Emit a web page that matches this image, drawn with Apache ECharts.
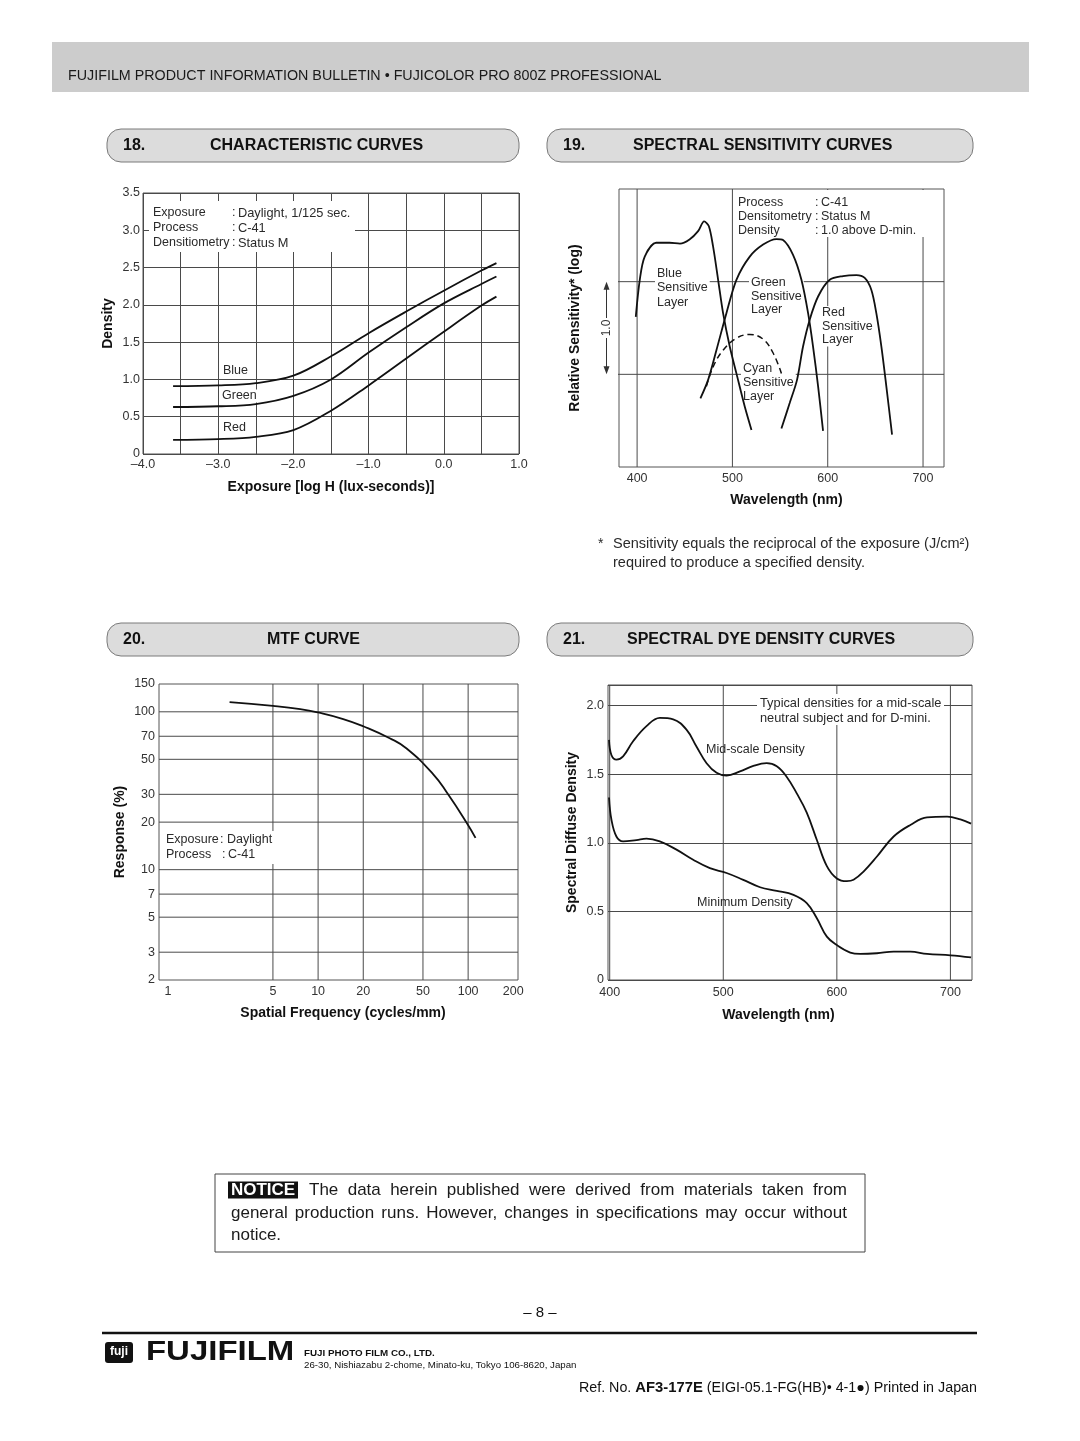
<!DOCTYPE html>
<html><head><meta charset="utf-8">
<script src="https://cdn.jsdelivr.net/npm/echarts@6/dist/echarts.min.js"></script>
<style>html,body{margin:0;padding:0;background:#fff}#c{width:1080px;height:1441px}</style>
</head><body><div id="c"></div>
<script>
// ---------- 18. Characteristic curves ----------
const charLogH  = [-3.6, -3.0, -2.5, -2.0, -1.5, -1.0, -0.5, 0.0, 0.5, 0.7];
const charBlue  = [0.91, 0.92, 0.95, 1.05, 1.31, 1.62, 1.91, 2.19, 2.46, 2.56];
const charGreen = [0.63, 0.64, 0.67, 0.78, 1.00, 1.36, 1.70, 2.02, 2.28, 2.38];
const charRed   = [0.19, 0.20, 0.23, 0.32, 0.58, 0.92, 1.28, 1.64, 1.99, 2.11];

// ---------- 19. Spectral sensitivity curves ----------
const specTicks = [400, 500, 600, 700];
const specLevels = [0, 1];
const blueWl   = [398.6, 402.8, 408, 420, 434, 445, 455, 464, 470.3, 475.2, 479.7, 485, 490.2, 497.2, 504.2, 513, 520];
const blueSens = [0.62, 1.02, 1.27, 1.42, 1.42, 1.41, 1.455, 1.545, 1.65, 1.60, 1.38, 1.02, 0.66, 0.30, 0.01, -0.35, -0.60];
const greenWl   = [466.4, 474.5, 483.2, 493.7, 504.2, 518.2, 532.2, 546.2, 553.1, 563.6, 572.4, 579.4, 584.6, 589.9, 595.1];
const greenSens = [-0.26, -0.06, 0.26, 0.66, 1.02, 1.27, 1.40, 1.46, 1.45, 1.29, 1.02, 0.66, 0.30, -0.13, -0.61];
const redWl   = [551.4, 560.1, 567.8, 574.1, 581.1, 589.9, 602.1, 616.1, 630.1, 638.8, 645.8, 651, 656.3, 661.5, 667.5];
const redSens = [-0.585, -0.31, -0.06, 0.30, 0.59, 0.84, 1.02, 1.06, 1.07, 1.04, 0.91, 0.66, 0.30, -0.13, -0.65];
const cyanWl   = [472.7, 479.7, 490.2, 504.2, 518.2, 532.2, 542.7, 551.4];
const cyanSens = [-0.13, 0.08, 0.26, 0.39, 0.43, 0.38, 0.23, 0.01];

// ---------- 20. MTF curve ----------
const mtfFreqTicks = [1, 5, 10, 20, 50, 100, 200];
const mtfRespTicks = [2, 3, 5, 7, 10, 20, 30, 50, 70, 100, 150];
const mtfFreq = [2.57, 5, 7.6, 10, 14.7, 20, 30, 38.9, 58.4, 73.5, 97.5, 112];
const mtfResp = [115, 109, 104, 99, 90, 81, 68, 58.5, 40.3, 30, 19.9, 15.9];

// ---------- 21. Spectral dye density curves ----------
const dyeTicks = [400, 500, 600, 700];
const midWl   = [399.4, 401.5, 405.9, 411.8, 420.6, 432.4, 444.1, 455.9, 467.6, 476.5, 485.3, 494.1, 502.9, 514.7, 526.5, 538.2, 547.1, 555.9, 564.7, 573.5, 582.4, 591.2, 600, 608.8, 614.7, 623.5, 635.3, 650, 664.7, 679.4, 697.1, 708.8, 718.2];
const midDens = [1.75, 1.64, 1.606, 1.63, 1.74, 1.85, 1.91, 1.90, 1.825, 1.70, 1.58, 1.51, 1.49, 1.52, 1.56, 1.58, 1.557, 1.48, 1.36, 1.22, 1.02, 0.83, 0.74, 0.72, 0.73, 0.79, 0.90, 1.046, 1.13, 1.185, 1.19, 1.17, 1.14];
const minWl   = [399.4, 401.5, 405.9, 411.8, 423.5, 432.4, 444.1, 458.8, 473.5, 488.2, 502.9, 517.6, 532.4, 547.1, 561.8, 573.5, 582.4, 591.2, 600, 611.8, 620.6, 635.3, 650, 664.7, 679.4, 700, 718.2];
const minDens = [1.33, 1.17, 1.046, 1.01, 1.02, 1.03, 1.01, 0.95, 0.876, 0.815, 0.78, 0.73, 0.676, 0.65, 0.62, 0.56, 0.45, 0.316, 0.255, 0.20, 0.19, 0.195, 0.207, 0.207, 0.19, 0.18, 0.165];

// ---------- helpers ----------
const FONT = "'Liberation Sans', Arial, Helvetica, sans-serif";
const GRIDC = '#4a4a4a';
const TXT = '#2a2a2a';
const INK = '#111';

function txt(x, y, text, o = {}) {
  const st = {
    text, fill: o.color || TXT, fontSize: o.size || 12.5, fontWeight: o.weight || 'normal',
    fontFamily: o.family || FONT, align: o.align || 'left', verticalAlign: o.va || 'middle'
  };
  if (o.bg) { st.backgroundColor = o.bg; st.padding = o.pad || [0, 2]; }
  if (o.lh) st.lineHeight = o.lh;
  if (o.rich) st.rich = o.rich;
  const el = { type: 'text', x, y, z: o.z || 6, silent: true, style: st };
  if (o.rotation) el.rotation = o.rotation;
  if (o.scaleX) el.scaleX = o.scaleX;
  return el;
}
function rect(x, y, w, h, o = {}) {
  return { type: 'rect', z: o.z || 5, silent: true, shape: { x, y, width: w, height: h, r: o.r || 0 },
    style: { fill: o.fill || '#fff', stroke: o.stroke || null, lineWidth: o.lw || 1 } };
}
function seg(x1, y1, x2, y2, o = {}) {
  return { type: 'line', z: o.z || 5, silent: true, shape: { x1, y1, x2, y2 },
    style: { stroke: o.stroke || GRIDC, lineWidth: o.lw || 1 } };
}
function curve(gi, xs, ys, o = {}) {
  return { type: 'line', xAxisIndex: gi, yAxisIndex: gi, data: xs.map((x, i) => [x, ys[i]]),
    smooth: o.smooth ?? 0.35, symbol: 'none', z: 10, silent: true, animation: false,
    lineStyle: { color: INK, width: o.width || 1.8, type: o.type || 'solid' } };
}
function gline(gi, a, b, clip = true) {
  return { type: 'line', xAxisIndex: gi, yAxisIndex: gi, data: [a, b], symbol: 'none', z: 1,
    silent: true, clip, animation: false, lineStyle: { color: GRIDC, width: 1 } };
}
const tickLabel = (extra = {}) => Object.assign({ color: '#333', fontSize: 12.5, fontFamily: FONT }, extra);
const nameStyle = { fontWeight: 'bold', fontSize: 14, color: INK, fontFamily: FONT };
const noLine = { show: false };

const gridBase = { show: true, borderColor: '#555', borderWidth: 1, backgroundColor: 'transparent', containLabel: false, outerBoundsMode: 'none' };
const grids = [
  Object.assign({ left: 143, top: 193, width: 376, height: 261 }, gridBase),
  Object.assign({ left: 619, top: 189, width: 325, height: 278 }, gridBase),
  Object.assign({ left: 159, top: 684, width: 359, height: 296 }, gridBase),
  Object.assign({ left: 608, top: 685, width: 364, height: 295 }, gridBase)
];

const dash = v => (v < 0 ? '\u2013' : '') + Math.abs(v).toFixed(1);

const xAxes = [
  { type: 'value', gridIndex: 0, min: -4, max: 1, interval: 0.5, axisLine: noLine, axisTick: noLine,
    splitLine: { show: true, lineStyle: { color: GRIDC, width: 1 } },
    axisLabel: tickLabel({ margin: 4, formatter: v => (Math.abs(v % 1) < 1e-9 ? dash(v) : '') }),
    name: 'Exposure [log H (lux-seconds)]', nameLocation: 'middle', nameGap: 26, nameTextStyle: nameStyle },
  { type: 'value', gridIndex: 1, min: 381, max: 722, axisLine: noLine, axisTick: noLine, splitLine: noLine,
    axisLabel: tickLabel({ margin: 5, customValues: specTicks }),
    name: 'Wavelength (nm)', nameLocation: 'middle', nameGap: 26, nameTextStyle: Object.assign({ padding: [0, 0, 0, 10] }, nameStyle) },
  { type: 'log', logBase: 10, gridIndex: 2, min: 0.87, max: 215, axisLine: noLine, axisTick: noLine, splitLine: noLine,
    axisLabel: tickLabel({ margin: 5, customValues: mtfFreqTicks }),
    name: 'Spatial Frequency (cycles/mm)', nameLocation: 'middle', nameGap: 26, nameTextStyle: Object.assign({ padding: [0, 0, 0, 9] }, nameStyle) },
  { type: 'value', gridIndex: 3, min: 398.5, max: 719, axisLine: noLine, axisTick: noLine, splitLine: noLine,
    axisLabel: tickLabel({ margin: 6, customValues: dyeTicks }),
    name: 'Wavelength (nm)', nameLocation: 'middle', nameGap: 28, nameTextStyle: Object.assign({ padding: [0, 23, 0, 0] }, nameStyle) }
];
const yAxes = [
  { type: 'value', gridIndex: 0, min: 0, max: 3.5, interval: 0.5, axisLine: noLine, axisTick: noLine,
    splitLine: { show: true, lineStyle: { color: GRIDC, width: 1 } },
    axisLabel: tickLabel({ margin: 3, formatter: v => (v === 0 ? '0' : v.toFixed(1)) }),
    name: 'Density', nameLocation: 'middle', nameGap: 28, nameRotate: 90, nameTextStyle: nameStyle },
  { type: 'value', gridIndex: 1, min: -1, max: 2, interval: 1, axisLine: noLine, axisTick: noLine, splitLine: noLine,
    axisLabel: { show: false },
    name: 'Relative Sensitivity* (log)', nameLocation: 'middle', nameGap: 37, nameRotate: 90, nameTextStyle: nameStyle },
  { type: 'log', logBase: 10, gridIndex: 2, min: 2, max: 150, axisLine: noLine, axisTick: noLine, splitLine: noLine,
    axisLabel: tickLabel({ margin: 4, customValues: mtfRespTicks }),
    name: 'Response (%)', nameLocation: 'middle', nameGap: 32, nameRotate: 90, nameTextStyle: nameStyle },
  { type: 'value', gridIndex: 3, min: 0, max: 2.15, interval: 0.5, axisLine: noLine, axisTick: noLine,
    splitLine: { show: true, lineStyle: { color: GRIDC, width: 1 } },
    axisLabel: tickLabel({ margin: 4, showMaxLabel: false, formatter: v => (v === 0 ? '0' : (Math.abs((v * 2) % 1) < 1e-9 ? v.toFixed(1) : '')) }),
    name: 'Spectral Diffuse Density', nameLocation: 'middle', nameGap: 29, nameRotate: 90, nameTextStyle: nameStyle }
];

const series = [];
// grid lines drawn from the tick arrays through the axes
specTicks.forEach(v => series.push(gline(1, [v, -1], [v, 2])));
specLevels.forEach(v => series.push(gline(1, [357, v], [722, v], false)));
mtfFreqTicks.filter(v => v > 1 && v < 200).forEach(v => series.push(gline(2, [v, 2], [v, 150])));
mtfRespTicks.filter(v => v > 2 && v < 150).forEach(v => series.push(gline(2, [0.87, v], [215, v])));
dyeTicks.forEach(v => series.push(gline(3, [v, 0], [v, 2.15])));
// curves
series.push(curve(0, charLogH, charBlue, { smooth: 0.35 }));
series.push(curve(0, charLogH, charGreen, { smooth: 0.35 }));
series.push(curve(0, charLogH, charRed, { smooth: 0.35 }));
series.push(curve(1, blueWl, blueSens, { smooth: 0.3 }));
series.push(curve(1, greenWl, greenSens, { smooth: 0.3 }));
series.push(curve(1, redWl, redSens, { smooth: 0.3 }));
series.push(curve(1, cyanWl, cyanSens, { smooth: 0.4, type: [6, 4], width: 1.5 }));
series.push(curve(2, mtfFreq, mtfResp, { smooth: 0.5 }));
series.push(curve(3, midWl, midDens, { smooth: 0.4 }));
series.push(curve(3, minWl, minDens, { smooth: 0.4 }));

// ---------- page graphics ----------
function header(x0, x1, y0, num, title, titleX) {
  return [
    rect(x0, y0, x1 - x0, 33, { r: 14, fill: '#dcdcdc', stroke: '#7a7a7a', z: 3 }),
    txt(x0 + 16, y0 + 17, num, { size: 16, weight: 'bold', color: INK }),
    txt(titleX, y0 + 17, title, { size: 16, weight: 'bold', color: INK })
  ];
}
function justify(line, x0, x1, y, size) {
  const ctx = document.createElement('canvas').getContext('2d');
  ctx.font = size + "px 'Liberation Sans'";
  const words = line.split(' ');
  const w = words.map(s => ctx.measureText(s).width);
  const gap = (x1 - x0 - w.reduce((a, b) => a + b, 0)) / (words.length - 1);
  let x = x0;
  return words.map((s, i) => { const el = txt(x, y, s, { size, color: '#1a1a1a' }); x += w[i] + gap; return el; });
}

let graphics = [];
graphics.push(rect(52, 42, 977, 50, { fill: '#cccccc', z: 2 }));
graphics.push(txt(68, 76, 'FUJIFILM PRODUCT INFORMATION BULLETIN \u2022 FUJICOLOR PRO 800Z PROFESSIONAL', { size: 14.3, color: '#1a1a1a' }));
graphics = graphics.concat(
  header(107, 519, 129, '18.', 'CHARACTERISTIC CURVES', 210),
  header(547, 973, 129, '19.', 'SPECTRAL SENSITIVITY CURVES', 633),
  header(107, 519, 623, '20.', 'MTF CURVE', 267),
  header(547, 973, 623, '21.', 'SPECTRAL DYE DENSITY CURVES', 627)
);
// chart 18 annotations
graphics.push(rect(149, 201, 206, 51));
[['Exposure', 'Daylight, 1/125 sec.', 213], ['Process', 'C-41', 228], ['Densitiometry', 'Status M', 243]].forEach(r => {
  graphics.push(txt(153, r[2], r[0]), txt(232, r[2], ':'), txt(238, r[2], r[1], { size: 12.8 }));
});
graphics.push(txt(221, 371, 'Blue', { bg: '#fff' }), txt(220, 396, 'Green', { bg: '#fff' }), txt(221, 428, 'Red', { bg: '#fff' }));
// chart 19 annotations
graphics.push(rect(735, 190, 190, 47));
[['Process', 'C-41', 203], ['Densitometry', 'Status M', 217], ['Density', '1.0 above D-min.', 231]].forEach(r => {
  graphics.push(txt(738, r[2], r[0]), txt(815, r[2], ':'), txt(821, r[2], r[1]));
});
graphics.push(txt(655, 266, 'Blue\nSensitive\nLayer', { bg: '#fff', lh: 14.5, va: 'top' }));
graphics.push(txt(749, 276, 'Green\nSensitive\nLayer', { bg: '#fff', lh: 13.5, va: 'top' }));
graphics.push(txt(820, 306, 'Red\nSensitive\nLayer', { bg: '#fff', lh: 13.5, va: 'top' }));
graphics.push(txt(741, 362, 'Cyan\nSensitive\nLayer', { bg: '#fff', lh: 13.8, va: 'top' }));
graphics.push(txt(598, 544, '*', { size: 14 }));
graphics.push(txt(613, 544, 'Sensitivity equals the reciprocal of the exposure (J/cm\u00B2)', { size: 14.5 }));
graphics.push(txt(613, 563, 'required to produce a specified density.', { size: 14.5 }));
// chart 20 annotation
graphics.push(rect(163, 831, 113, 33));
graphics.push(txt(166, 840, 'Exposure'), txt(220, 840, ':'), txt(227, 840, 'Daylight'));
graphics.push(txt(166, 855, 'Process'), txt(222, 855, ':'), txt(228, 855, 'C-41'));
// chart 21 annotations
graphics.push(rect(757, 694, 187, 31));
graphics.push(txt(760, 703, 'Typical densities for a mid-scale', { size: 12.8 }), txt(760, 718, 'neutral subject and for D-mini.', { size: 12.8 }));
graphics.push(txt(706, 750, 'Mid-scale Density'), txt(697, 903, 'Minimum Density'));
// notice
graphics.push(rect(215, 1174, 650, 78, { stroke: '#444', z: 3 }));
graphics.push(rect(228, 1181.5, 70, 17, { fill: '#111', z: 4 }));
graphics.push(txt(263, 1190.5, 'NOTICE', { size: 17, weight: 'bold', color: '#fff', align: 'center' }));
graphics = graphics.concat(justify('The data herein published were derived from materials taken from', 309, 847, 1190.5, 17));
graphics = graphics.concat(justify('general production runs. However, changes in specifications may occur without', 231, 847, 1213, 17));
graphics.push(txt(231, 1235, 'notice.', { size: 17, color: '#1a1a1a' }));
// footer
graphics.push(txt(540, 1313, '\u2013 8 \u2013', { size: 15, align: 'center', color: INK }));
graphics.push(seg(102, 1333, 977, 1333, { stroke: INK, lw: 2.5 }));
graphics.push(rect(105, 1342, 28, 21, { fill: INK, r: 3 }));
graphics.push(txt(119, 1352, 'fuji', { size: 12, weight: 'bold', color: '#fff', align: 'center' }));
graphics.push(txt(146, 1353, 'FUJIFILM', { size: 27, weight: 'bold', color: INK, scaleX: 1.22 }));
graphics.push(txt(304, 1353, 'FUJI PHOTO FILM CO., LTD.', { size: 9.8, weight: 'bold', color: INK }));
graphics.push(txt(304, 1365, '26-30, Nishiazabu 2-chome, Minato-ku, Tokyo 106-8620, Japan', { size: 9.7, color: INK }));
graphics.push(txt(977, 1388, 'Ref. No. {b|AF3-177E} (EIGI-05.1-FG(HB)\u2022 4-1\u25CF) Printed in Japan',
  { size: 14.3, align: 'right', color: INK, rich: { b: { fontWeight: 'bold', fontSize: 14.8, fontFamily: FONT, fill: INK } } }));

const chart = echarts.init(document.getElementById('c'), null, { renderer: 'canvas', width: 1080, height: 1441 });
chart.setOption({
  animation: false, backgroundColor: '#fff',
  grid: grids, xAxis: xAxes, yAxis: yAxes, series
});

// "1.0" bracket on chart 19, placed through the axes
const p1 = chart.convertToPixel({ gridIndex: 1 }, [400, 1]);
const p0 = chart.convertToPixel({ gridIndex: 1 }, [400, 0]);
const bx = 606.5, my = (p0[1] + p1[1]) / 2;
graphics.push(seg(bx, p1[1] + 6, bx, my - 10, { stroke: '#333' }));
graphics.push(seg(bx, my + 10, bx, p0[1] - 6, { stroke: '#333' }));
graphics.push({ type: 'polygon', z: 5, silent: true, shape: { points: [[bx, p1[1]], [bx - 3, p1[1] + 8], [bx + 3, p1[1] + 8]] }, style: { fill: '#333' } });
graphics.push({ type: 'polygon', z: 5, silent: true, shape: { points: [[bx, p0[1]], [bx - 3, p0[1] - 8], [bx + 3, p0[1] - 8]] }, style: { fill: '#333' } });
graphics.push(txt(bx, my, '1.0', { align: 'center', rotation: Math.PI / 2, size: 12, color: '#333' }));

chart.setOption({ graphic: graphics });
</script></body></html>
